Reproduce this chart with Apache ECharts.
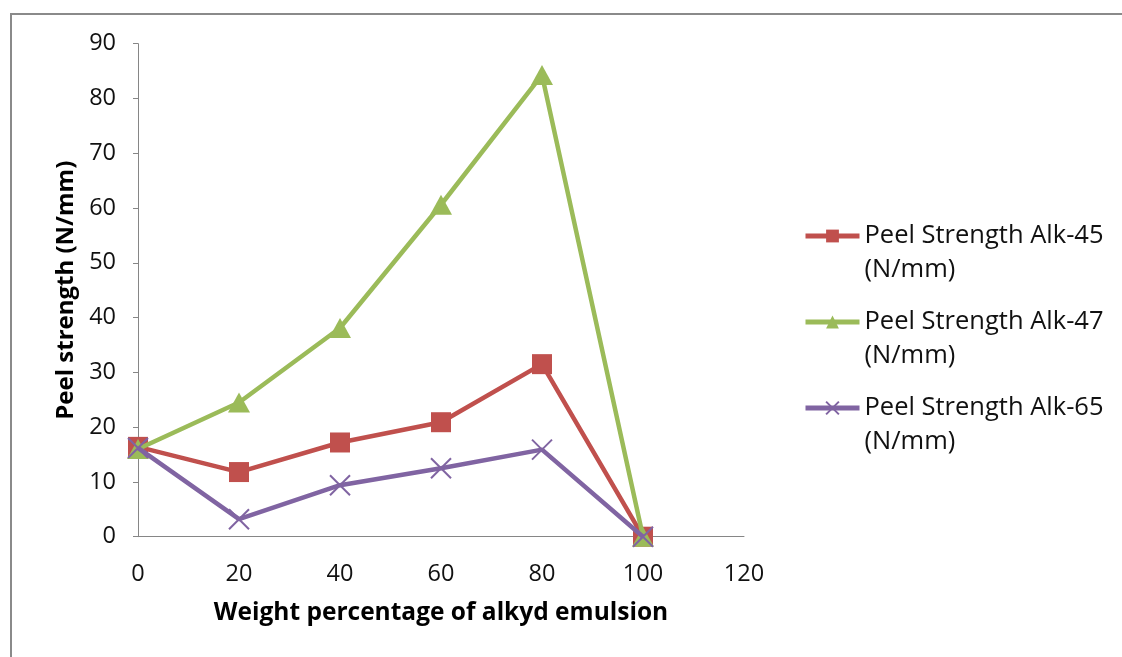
<!DOCTYPE html>
<html>
<head>
<meta charset="utf-8">
<script src="https://cdn.jsdelivr.net/npm/echarts@6/dist/echarts.min.js"></script>
<style>
  html, body { margin: 0; padding: 0; background: #fff; }
  #chart { width: 1122px; height: 657px; }
</style>
</head>
<body>
<div id="chart"></div>
<script>
// Weight percentage of alkyd emulsion (x values)
const weightPct = [0, 20, 40, 60, 80, 100];

// Peel strength (N/mm) for each alkyd grade
const alk45 = [16.4, 11.8, 17.2, 20.9, 31.5, 0];
const alk47 = [16.0, 24.5, 38.1, 60.6, 84.3, 0];
const alk65 = [16.2, 3.2, 9.4, 12.5, 15.9, 0];

const seriesNames = [
  'Peel Strength Alk-45',
  'Peel Strength Alk-47',
  'Peel Strength Alk-65'
];

const FONT = '"Open Sans", "Noto Sans", sans-serif';
const crossPath = 'path://M0,0L10,10M10,0L0,10';

function pairs(ys) {
  return weightPct.map((x, i) => [x, ys[i]]);
}

const chart = echarts.init(document.getElementById('chart'), null, { renderer: 'canvas' });

chart.setOption({
  backgroundColor: '#ffffff',
  animation: false,
  textStyle: { fontFamily: FONT },
  graphic: [{
    type: 'rect',
    shape: { x: 11, y: 14, width: 1300, height: 800 },
    style: { fill: 'none', stroke: '#8a8a8a', lineWidth: 2 },
    silent: true,
    z: -10
  }],
  grid: { left: 138, right: 378, top: 43.7, bottom: 120.3, containLabel: false },
  legend: {
    left: 803,
    top: 185,
    padding: 0,
    orient: 'vertical',
    itemWidth: 54,
    itemHeight: 16,
    itemGap: -16,
    data: seriesNames,
    lineStyle: { width: 5 },
    formatter: name => ' \n' + name + '\n(N/mm)',
    textStyle: { fontFamily: FONT, fontSize: 25.5, lineHeight: 34, color: '#111' }
  },
  xAxis: {
    type: 'value',
    min: 0, max: 120, interval: 20,
    name: 'Weight percentage of alkyd emulsion',
    nameLocation: 'middle',
    nameGap: 64,
    nameTextStyle: { fontFamily: FONT, fontSize: 24.5, fontWeight: 'bold', color: '#000' },
    axisLine: { show: true, lineStyle: { color: '#868686', width: 1 } },
    axisTick: { show: false },
    splitLine: { show: false },
    axisLabel: { fontFamily: FONT, fontSize: 23.5, color: '#111', margin: 26 }
  },
  yAxis: {
    type: 'value',
    min: 0, max: 90, interval: 10,
    name: 'Peel strength (N/mm)',
    nameLocation: 'middle',
    nameGap: 59,
    nameTextStyle: { fontFamily: FONT, fontSize: 24, fontWeight: 'bold', color: '#000' },
    axisLine: { show: true, lineStyle: { color: '#868686', width: 1 } },
    axisTick: { show: true, length: 5, lineStyle: { color: '#868686' } },
    splitLine: { show: false },
    axisLabel: { fontFamily: FONT, fontSize: 23.5, color: '#111', margin: 22 }
  },
  series: [
    {
      name: seriesNames[0],
      type: 'line',
      data: pairs(alk45),
      symbol: 'rect',
      symbolSize: 20,
      lineStyle: { color: '#C0504D', width: 4.5 },
      itemStyle: { color: '#C0504D', borderWidth: 0 },
      z: 2
    },
    {
      name: seriesNames[1],
      type: 'line',
      data: pairs(alk47),
      symbol: 'triangle',
      symbolSize: [22, 20],
      lineStyle: { color: '#9BBB59', width: 4.5 },
      itemStyle: { color: '#9BBB59', borderWidth: 0 },
      z: 3
    },
    {
      name: seriesNames[2],
      type: 'line',
      data: pairs(alk65),
      symbol: crossPath,
      symbolSize: 20,
      lineStyle: { color: '#8064A2', width: 4.5 },
      itemStyle: { color: '#8064A2', borderColor: '#8064A2', borderWidth: 2 },
      z: 4
    }
  ]
});
</script>
</body>
</html>
